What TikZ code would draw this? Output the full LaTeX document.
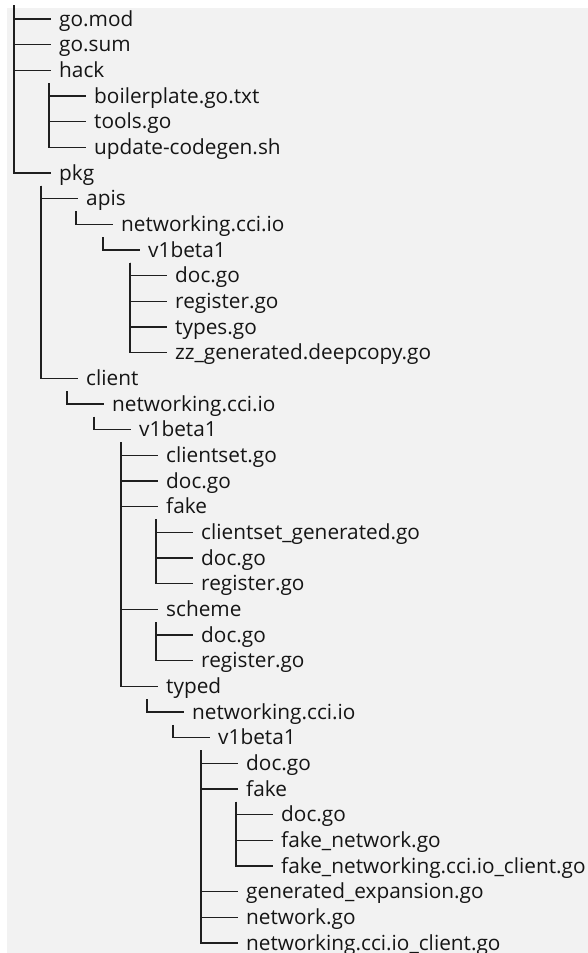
\documentclass[tikz,border=0pt]{standalone}
\usepackage{fontspec}
\setmainfont{Open Sans}
\definecolor{bgc}{HTML}{F2F2F2}
\definecolor{linec}{HTML}{1F1F1F}
\definecolor{txtc}{HTML}{151515}
\newcommand{\entfont}{\fontsize{20.8}{24}\selectfont}
\tikzset{
  ent/.style={anchor=west, inner sep=0pt, text height=14pt, text depth=0pt, font=\entfont, text=txtc},
  br/.style={draw=linec, line width=1.4pt},
}
\begin{document}
\begin{tikzpicture}[x=1pt,y=-1pt]
\useasboundingbox (0,0) rectangle (588,953);
\fill[white] (0,0) rectangle (588,953);
\fill[bgc] (7,8) rectangle (588,953);
% rows: y = 19 + 25.67*i ; text x = vx + 45
\node[ent] (gomod) at (59,{19+25.67*0}) {go.mod};
\node[ent] (gosum) at (59,{19+25.67*1}) {go.sum};
\node[ent] (hack) at (59,{19+25.67*2}) {hack};
\node[ent] (boil) at (94,{19+25.67*3}) {boilerplate.go.txt};
\node[ent] (tools) at (94,{19+25.67*4}) {tools.go};
\node[ent] (upd) at (94,{19+25.67*5}) {update-codegen.sh};
\node[ent] (pkg) at (59,{19+25.67*6}) {pkg};
\node[ent] (apis) at (86,{19+25.67*7}) {apis};
\node[ent] (anw) at (121,{19+25.67*8}) {networking.cci.io};
\node[ent] (av1) at (148,{19+25.67*9}) {v1beta1};
\node[ent] (adoc) at (175,{19+25.67*10}) {doc.go};
\node[ent] (areg) at (175,{19+25.67*11}) {register.go};
\node[ent] (atypes) at (175,{19+25.67*12}) {types.go};
\node[ent] (azz) at (175,{19+25.67*13}) {zz\_generated.deepcopy.go};
\node[ent] (client) at (86,{19+25.67*14}) {client};
\node[ent] (cnw) at (112,{19+25.67*15}) {networking.cci.io};
\node[ent] (cv1) at (139,{19+25.67*16}) {v1beta1};
\node[ent] (ccs) at (166,{19+25.67*17}) {clientset.go};
\node[ent] (cdoc) at (166,{19+25.67*18}) {doc.go};
\node[ent] (cfake) at (166,{19+25.67*19}) {fake};
\node[ent] (cfcs) at (201,{19+25.67*20}) {clientset\_generated.go};
\node[ent] (cfdoc) at (201,{19+25.67*21}) {doc.go};
\node[ent] (cfreg) at (201,{19+25.67*22}) {register.go};
\node[ent] (cscheme) at (166,{19+25.67*23}) {scheme};
\node[ent] (csdoc) at (201,{19+25.67*24}) {doc.go};
\node[ent] (csreg) at (201,{19+25.67*25}) {register.go};
\node[ent] (ctyped) at (166,{19+25.67*26}) {typed};
\node[ent] (tnw) at (192,{19+25.67*27}) {networking.cci.io};
\node[ent] (tv1) at (218,{19+25.67*28}) {v1beta1};
\node[ent] (tdoc) at (246,{19+25.67*29}) {doc.go};
\node[ent] (tfake) at (246,{19+25.67*30}) {fake};
\node[ent] (tfdoc) at (281,{19+25.67*31}) {doc.go};
\node[ent] (tfnet) at (281,{19+25.67*32}) {fake\_network.go};
\node[ent] (tfnc) at (281,{19+25.67*33}) {fake\_networking.cci.io\_client.go};
\node[ent] (tgen) at (246,{19+25.67*34}) {generated\_expansion.go};
\node[ent] (tnet) at (246,{19+25.67*35}) {network.go};
\node[ent] (tnc) at (246,{19+25.67*36}) {networking.cci.io\_client.go};
% vertical tops (first child row - 13)
\coordinate (vroot) at (14,5);
\coordinate (vhack) at (49,{19+25.67*3-13});
\coordinate (vpkg) at (41,{19+25.67*7-13});
\coordinate (vapis) at (76,{19+25.67*8-13});
\coordinate (vanw) at (103,{19+25.67*9-13});
\coordinate (vav1) at (130,{19+25.67*10-13});
\coordinate (vclient) at (67,{19+25.67*15-13});
\coordinate (vcnw) at (94,{19+25.67*16-13});
\coordinate (vcv1) at (121,{19+25.67*17-13});
\coordinate (vcfake) at (156,{19+25.67*20-13});
\coordinate (vcscheme) at (156,{19+25.67*24-13});
\coordinate (vtyped) at (147,{19+25.67*27-13});
\coordinate (vtnw) at (173,{19+25.67*28-13});
\coordinate (vtv1) at (201,{19+25.67*29-13});
\coordinate (vtfake) at (236,{19+25.67*31-13});
% branches
\foreach \c in {gomod,gosum,hack,pkg} \draw[br] (vroot) |- ([xshift=-8pt]\c.west);
\foreach \c in {boil,tools,upd} \draw[br] (vhack) |- ([xshift=-8pt]\c.west);
\foreach \c in {apis,client} \draw[br] (vpkg) |- ([xshift=-8pt]\c.west);
\draw[br] (vapis) |- ([xshift=-8pt]anw.west);
\draw[br] (vanw) |- ([xshift=-8pt]av1.west);
\foreach \c in {adoc,areg,atypes,azz} \draw[br] (vav1) |- ([xshift=-8pt]\c.west);
\draw[br] (vclient) |- ([xshift=-8pt]cnw.west);
\draw[br] (vcnw) |- ([xshift=-8pt]cv1.west);
\foreach \c in {ccs,cdoc,cfake,cscheme,ctyped} \draw[br] (vcv1) |- ([xshift=-8pt]\c.west);
\foreach \c in {cfcs,cfdoc,cfreg} \draw[br] (vcfake) |- ([xshift=-8pt]\c.west);
\foreach \c in {csdoc,csreg} \draw[br] (vcscheme) |- ([xshift=-8pt]\c.west);
\draw[br] (vtyped) |- ([xshift=-8pt]tnw.west);
\draw[br] (vtnw) |- ([xshift=-8pt]tv1.west);
\foreach \c in {tdoc,tfake,tgen,tnet,tnc} \draw[br] (vtv1) |- ([xshift=-8pt]\c.west);
\foreach \c in {tfdoc,tfnet,tfnc} \draw[br] (vtfake) |- ([xshift=-8pt]\c.west);
\end{tikzpicture}
\end{document}
